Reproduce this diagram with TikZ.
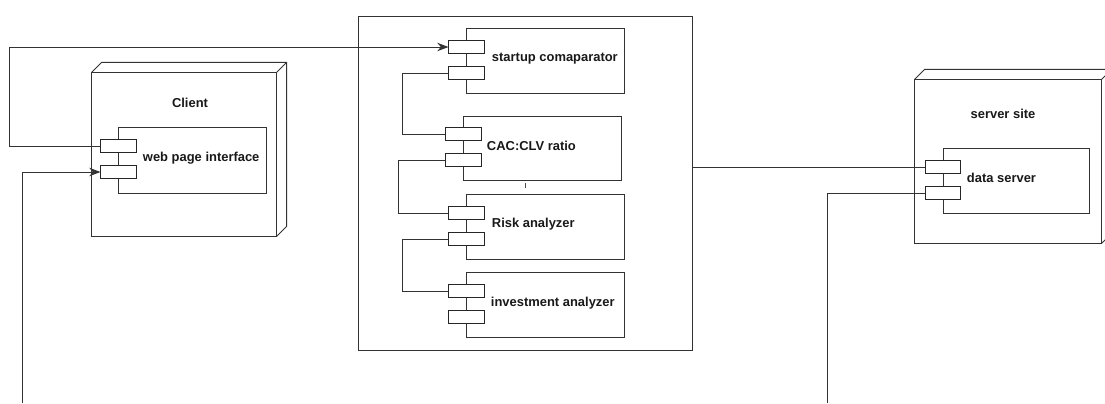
\documentclass[tikz,border=0pt]{standalone}
\usepackage{fontspec}
\setmainfont{Liberation Sans}
\usepackage{xcolor}
\usetikzlibrary{arrows.meta, positioning, calc}

\begin{document}
\begin{tikzpicture}[x=0.025cm, y=-0.025cm,
    line width=0.7pt, >={Stealth[length=8pt, width=6pt]},
    lbl/.style={font=\fontsize{9.2}{11}\selectfont\bfseries, text=black!90, inner sep=0pt},
    wire/.style={draw=black!80, line width=0.7pt},
    nodebox/.style={draw=black!80, fill=white, minimum width=4.6cm, minimum height=4.075cm},
    comp/.style={draw=black!80, fill=white, minimum width=3.925cm, minimum height=1.625cm},
    port/.style={draw=black!85, fill=white, minimum width=0.875cm, minimum height=0.325cm, inner sep=0pt}]
    \useasboundingbox (0,0) rectangle (1105,403);

    % deployment nodes
    \node[nodebox] (client) at (184,154.5) {};
    \draw[black!80] (client.north west) -- ++(10,-10) -- ($(client.north east)+(10,-10)$) -- ($(client.south east)+(10,-10)$) -- (client.south east);
    \draw[black!80] (client.north east) -- ++(10,-10);
    \node[lbl] (clientt) at (190,103) {Client};

    \node[nodebox, minimum width=4.65cm] (server) at (1008,161.5) {};
    \draw[black!80] (server.north west) -- ++(10,-10) -- ($(server.north east)+(10,-10)$) -- ($(server.south east)+(10,-10)$) -- (server.south east);
    \draw[black!80] (server.north east) -- ++(10,-10);
    \node[lbl] (servert) at (1003,114) {server site};

    \node[draw=black!80, minimum width=8.325cm, minimum height=8.325cm] (mid) at (525.5,183.5) {};

    % components
    \node[comp, minimum width=3.675cm, minimum height=1.65cm] (web) at (192.5,160) {};
    \node[port] (wp1) at ($(web.north west)+(0,19.5)$) {};
    \node[port] (wp2) at ($(web.north west)+(0,45.5)$) {};
    \node[lbl, anchor=west] (webt) at ($(web.west)+(24,-2)$) {web page interface};

    \node[comp] (sc) at (545.5,60.5) {};
    \node[port] (sc1) at ($(sc.north west)+(0,19.5)$) {};
    \node[port] (sc2) at ($(sc.north west)+(0,45.5)$) {};
    \node[lbl, anchor=west] (sct) at ($(sc.west)+(25,-1.5)$) {startup comaparator};

    \node[comp, minimum height=1.6cm] (cac) at (542.5,148) {};
    \node[port] (cac1) at ($(cac.north west)+(0,18.5)$) {};
    \node[port] (cac2) at ($(cac.north west)+(0,44.5)$) {};
    \node[lbl, anchor=west] (cact) at ($(cac.west)+(23,-2)$) {CAC:CLV ratio};
    \draw[black!70, line width=0.6pt] ($(cac.south)+(-17.5,2.5)$) -- ++(0,5);

    \node[comp] (risk) at (545.5,226.5) {};
    \node[port] (ra1) at ($(risk.north west)+(0,19.5)$) {};
    \node[port] (ra2) at ($(risk.north west)+(0,45.5)$) {};
    \node[lbl, anchor=west] (riskt) at ($(risk.west)+(25,-2.5)$) {Risk analyzer};

    \node[comp] (inv) at (545.5,304.5) {};
    \node[port] (ia1) at ($(inv.north west)+(0,19.5)$) {};
    \node[port] (ia2) at ($(inv.north west)+(0,45.5)$) {};
    \node[lbl, anchor=west] (invt) at ($(inv.west)+(24,-1.5)$) {investment analyzer};

    \node[comp, minimum width=3.65cm] (ds) at (1016,180.5) {};
    \node[port] (ds1) at ($(ds.north west)+(0,19.5)$) {};
    \node[port] (ds2) at ($(ds.north west)+(0,45.5)$) {};
    \node[lbl, anchor=west] (dst) at ($(ds.west)+(24,-2.5)$) {data server};

    % connectors
    \coordinate (lowl) at (22,403);
    \coordinate (lowr) at (827,403);
    \draw[wire, ->] (wp1.west) -- ++(-91,0) |- (sc1.west);
    \draw[wire, ->] (lowl) |- (wp2.west);
    \draw[wire] (sc2.west) -- ++(-46,0) |- (cac1.west);
    \draw[wire] (cac2.west) -- ++(-47,0) |- (ra1.west);
    \draw[wire] (ra2.west) -- ++(-46,0) |- (ia1.west);
    \draw[wire] (ds1.west -| mid.east) -- (ds1.west);
    \draw[wire] (ds2.west) -| (lowr);
\end{tikzpicture}
\end{document}
